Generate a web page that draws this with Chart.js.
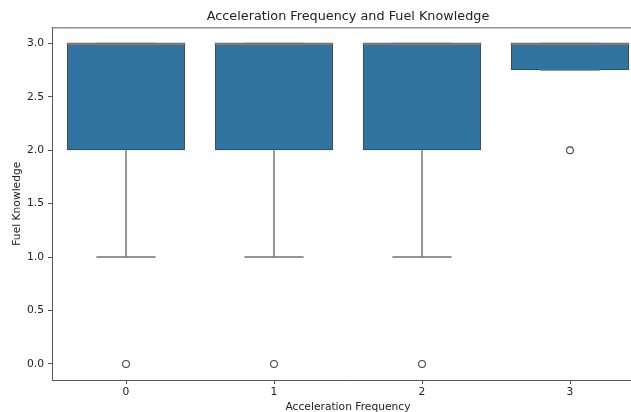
<!DOCTYPE html>
<html>
<head>
<meta charset="utf-8">
<script src="https://cdn.jsdelivr.net/npm/chart.js@4"></script>
<style>
html,body{margin:0;padding:0;overflow:hidden;background:#fff;}
#wrap{width:660px;height:412px;}
</style>
</head>
<body>
<div id="wrap"><canvas id="c" width="660" height="412"></canvas></div>
<script>
// ---- data ----
const categories   = [0, 1, 2, 3];
const q1Values     = [2, 2, 2, 2.75];
const medianValues = [3, 3, 3, 3];
const q3Values     = [3, 3, 3, 3];
const whiskerLow   = [1, 1, 1, 2.75];
const whiskerHigh  = [3, 3, 3, 3];
const outlierValues = [[0], [0], [0], [2]];
const yTicks      = [0, 0.5, 1, 1.5, 2, 2.5, 3];
const yTickLabels = ['0.0', '0.5', '1.0', '1.5', '2.0', '2.5', '3.0'];
const xTickLabels = ['0', '1', '2', '3'];

// ---- style constants ----
const BOX_HALF = 0.4, CAP_HALF = 0.2;
const FONT = "'DejaVu Sans', sans-serif";
const BOX_COLOR = '#3274a1';
const LINE_COLOR = '#747474';

const boxData = categories.map((c, i) => ({x: c, y: [q1Values[i], q3Values[i]]}));

const whiskerData = [];
categories.forEach((c, i) => {
  whiskerData.push({x: c, y: q1Values[i]}, {x: c, y: whiskerLow[i]}, {x: c, y: null});
  whiskerData.push({x: c, y: q3Values[i]}, {x: c, y: whiskerHigh[i]}, {x: c, y: null});
  whiskerData.push({x: c - CAP_HALF, y: whiskerLow[i]}, {x: c + CAP_HALF, y: whiskerLow[i]}, {x: c, y: null});
  whiskerData.push({x: c - CAP_HALF, y: whiskerHigh[i]}, {x: c + CAP_HALF, y: whiskerHigh[i]}, {x: c, y: null});
});
const medianData = [];
categories.forEach((c, i) => {
  medianData.push({x: c - BOX_HALF, y: medianValues[i]}, {x: c + BOX_HALF, y: medianValues[i]}, {x: c, y: null});
});
const outlierData = [];
categories.forEach((c, i) => outlierValues[i].forEach(v => outlierData.push({x: c, y: v})));

const frame = {
  id: 'frame',
  afterDatasetsDraw(chart) {
    const {ctx, chartArea: a} = chart;
    ctx.save();
    ctx.strokeStyle = '#555';
    ctx.lineWidth = 1;
    ctx.beginPath();
    ctx.moveTo(a.left, a.top + 0.5);
    ctx.lineTo(a.right, a.top + 0.5);
    ctx.moveTo(a.right - 0.5, a.top);
    ctx.lineTo(a.right - 0.5, a.bottom);
    ctx.stroke();
    ctx.restore();
  }
};

new Chart(document.getElementById('c'), {
  type: 'bar',
  data: {
    datasets: [
      {type: 'scatter', data: outlierData, pointRadius: 3.4, pointBorderWidth: 1.1,
       pointBackgroundColor: 'rgba(0,0,0,0)', pointBorderColor: '#4a4a4a', order: 0},
      {type: 'line', data: medianData, borderColor: LINE_COLOR, borderWidth: 1.5,
       pointRadius: 0, spanGaps: false, order: 1},
      {type: 'line', data: whiskerData, borderColor: LINE_COLOR, borderWidth: 1.5,
       pointRadius: 0, spanGaps: false, order: 2},
      {type: 'bar', data: boxData, backgroundColor: BOX_COLOR, borderColor: '#4a4a4a',
       borderWidth: 1.2, borderSkipped: false, barPercentage: 0.8, categoryPercentage: 1, order: 3}
    ]
  },
  options: {
    responsive: false,
    devicePixelRatio: 1,
    animation: false,
    layout: {padding: {left: 0, right: 16, top: 0, bottom: 0}},
    plugins: {
      legend: {display: false},
      tooltip: {enabled: false},
      title: {
        display: true, fullSize: false, text: 'Acceleration Frequency and Fuel Knowledge',
        color: '#222', font: {family: FONT, size: 12.8, weight: 'normal', lineHeight: 1.2},
        padding: {top: 9, bottom: 3}
      }
    },
    scales: {
      x: {
        type: 'linear', min: -0.5, max: 3.5, offset: false,
        afterBuildTicks: s => { s.ticks = categories.map(v => ({value: v})); },
        afterFit: s => { s.height = 32; },
        ticks: {color: '#222', font: {family: FONT, size: 10.7}, padding: 2,
                callback: (v) => xTickLabels[categories.indexOf(v)]},
        grid: {offset: false, drawOnChartArea: false, drawTicks: true, tickLength: 4, color: '#555'},
        border: {display: true, color: '#555', width: 1},
        title: {display: true, text: 'Acceleration Frequency', color: '#222',
                font: {family: FONT, size: 10.7, lineHeight: 1.2}, padding: {top: 0, bottom: -1.5}}
      },
      y: {
        type: 'linear', min: -0.15, max: 3.15,
        afterBuildTicks: s => { s.ticks = yTicks.map(v => ({value: v})); },
        afterFit: s => { s.width = 52; },
        ticks: {color: '#222', font: {family: FONT, size: 10.7}, padding: 4,
                callback: (v) => yTickLabels[yTicks.indexOf(v)]},
        grid: {drawOnChartArea: false, drawTicks: true, tickLength: 4, color: '#555'},
        border: {display: true, color: '#555', width: 1},
        title: {display: true, text: 'Fuel Knowledge', color: '#222',
                font: {family: FONT, size: 10.7, lineHeight: 1.2}, padding: {top: 10.6, bottom: 0}}
      }
    }
  },
  plugins: [frame]
});
</script>
</body>
</html>
